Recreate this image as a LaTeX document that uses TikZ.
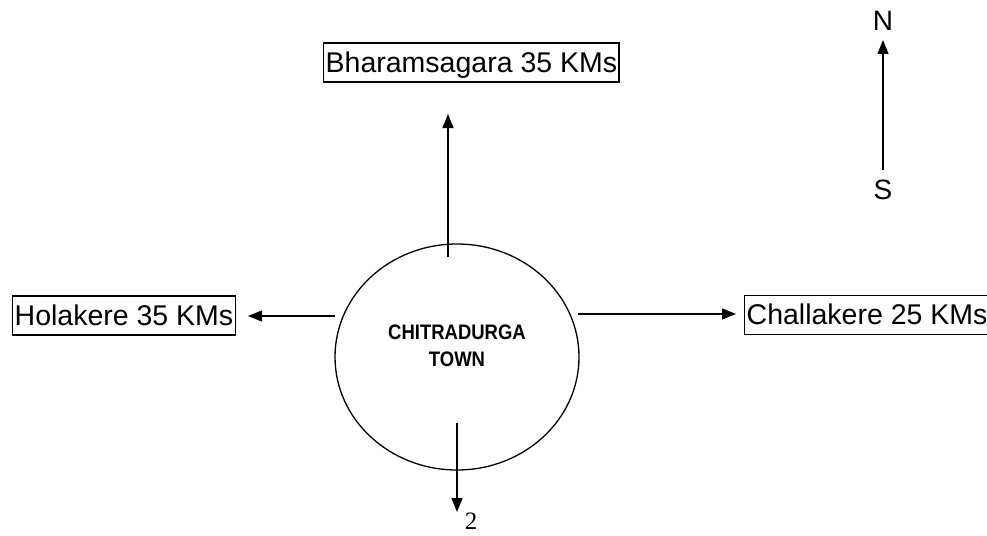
\documentclass[tikz,border=0pt]{standalone}
\usepackage{fontspec}
\setmainfont{Liberation Sans}
\newfontfamily\numserif{Liberation Serif}
\usetikzlibrary{arrows.meta,shapes.geometric}
\begin{document}
\begin{tikzpicture}[x=1pt,y=-1pt,
  place/.style={draw, line width=1.4pt, font=\fontsize{28.5}{30}\selectfont, inner xsep=2pt, inner ysep=3pt, text height=26pt, text depth=7pt},
  road/.style={line width=1.3pt, -{Triangle[length=14pt,width=11pt]}},
  compass/.style={font=\fontsize{28}{30}\selectfont, inner sep=0pt}]
\useasboundingbox (0,0) rectangle (987,535);
\node[place, anchor=west] (bhar) at (323,62.5) {Bharamsagara 35 KMs};
\node[place, anchor=west] (hola) at (12,315.5) {Holakere 35 KMs};
\node[place, anchor=west] (chal) at (744,315) {Challakere 25 KMs};
\node[draw, ellipse, line width=1.3pt, minimum width=244pt, minimum height=226pt] (town) at (457,357) {};
\node[font=\bfseries\fontsize{21}{27}\selectfont, align=center, inner sep=0pt] (townlbl) at (457,346) {\scalebox{0.88}[1]{CHITRADURGA}\\\scalebox{0.88}[1]{TOWN}};
\coordinate (topstart) at (448,257);
\coordinate (toptip) at (448,114);
\coordinate (leftstart) at (335,316);
\coordinate (lefttip) at (248,316);
\coordinate (rightstart) at (578,314);
\coordinate (righttip) at (736,314);
\coordinate (botstart) at (457,423);
\coordinate (bottip) at (457,512);
\draw[road] (topstart) -- (toptip);
\draw[road] (leftstart) -- (lefttip);
\draw[road] (rightstart) -- (righttip);
\draw[road] (botstart) -- (bottip);
\node[font=\numserif\fontsize{25}{27}\selectfont, inner sep=0pt, anchor=base] (two) at (471,529) {2};
\node[compass] (north) at (883,21) {N};
\node[compass] (south) at (883,190) {S};
\coordinate (sbase) at (883,170);
\coordinate (ntip) at (883,40);
\draw[road] (sbase) -- (ntip);
\end{tikzpicture}
\end{document}
